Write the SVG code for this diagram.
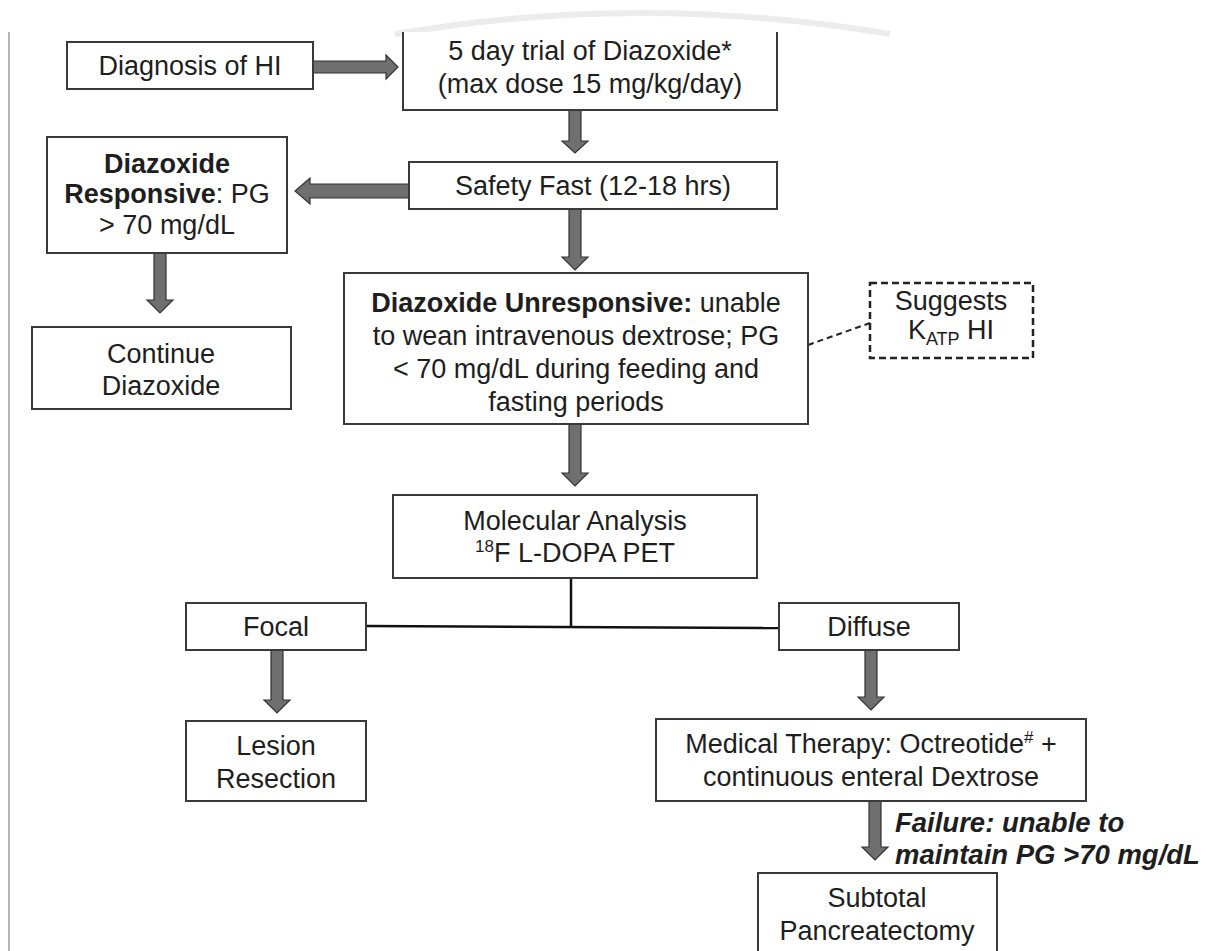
<svg xmlns="http://www.w3.org/2000/svg" width="1226" height="951" viewBox="0 0 1226 951">
<style>
.box{fill:#fff;stroke:#3a3a3a;stroke-width:2}
.dash{fill:#fff;stroke:#222;stroke-width:2.5;stroke-dasharray:7,4}
.t{font-family:"Liberation Sans",Arial,sans-serif;font-size:27px;fill:#1e1e1e;text-anchor:middle}
.b{font-weight:bold}
.arr{fill:#6f6f6f;stroke:#333;stroke-width:1.2;stroke-linejoin:miter}
.fail{font-family:"Liberation Sans",Arial,sans-serif;font-size:27.5px;font-weight:bold;font-style:italic;fill:#1e1e1e}
</style>
<rect width="1226" height="951" fill="#fff"/>
<path d="M395,34 Q640,-8 890,34" fill="none" stroke="#ececec" stroke-width="6"/>
<line x1="9" y1="32" x2="9" y2="951" stroke="#9a9a9a" stroke-width="1.5"/>

<g id="connectors">
  <polygon class="arr" points="313,61 386,61 386,55 398,67 386,79 386,73 313,73"/>
  <polygon class="arr" points="569,110 581,110 581,141 588,141 575,153 562,141 569,141"/>
  <polygon class="arr" points="569,209 581,209 581,257 588,257 575,270 562,257 569,257"/>
  <polygon class="arr" points="409,184 310,184 310,178 295,191 310,204 310,198 409,198"/>
  <polygon class="arr" points="154,253 166,253 166,300 173,300 160,313 147,300 154,300"/>
  <polygon class="arr" points="569,424 581,424 581,473 588,473 575,486 562,473 569,473"/>
  <polygon class="arr" points="271,650 283,650 283,700 290,700 277,713 264,700 271,700"/>
  <polygon class="arr" points="865,650 877,650 877,697 884,697 871,710 858,697 865,697"/>
  <polygon class="arr" points="869,801 881,801 881,847 888,847 875,860 862,847 869,847"/>
  <line x1="571" y1="578" x2="571" y2="627" stroke="#111" stroke-width="2.5"/>
  <line x1="366" y1="626" x2="779" y2="628" stroke="#111" stroke-width="2.5"/>
  <line x1="808" y1="345" x2="870" y2="323" stroke="#222" stroke-width="2" stroke-dasharray="6,4"/>
</g>

<g id="diagnosis">
  <rect class="box" x="67" y="42" width="246" height="47"/>
  <text class="t" x="190" y="75">Diagnosis of HI</text>
</g>
<g id="trial">
  <path d="M403,32 V110 H777 V32" fill="#fff" stroke="#3a3a3a" stroke-width="2"/>
  <text class="t" x="590" y="60">5 day trial of Diazoxide*</text>
  <text class="t" x="590" y="93">(max dose 15 mg/kg/day)</text>
</g>
<g id="safety">
  <rect class="box" x="409" y="162" width="368" height="47"/>
  <text class="t" x="593" y="195">Safety Fast (12-18 hrs)</text>
</g>
<g id="responsive">
  <rect class="box" x="47" y="137" width="240" height="116"/>
  <text class="t b" x="167" y="173">Diazoxide</text>
  <text class="t" x="167" y="203"><tspan class="b">Responsive</tspan>: PG</text>
  <text class="t" x="167" y="234">&gt; 70 mg/dL</text>
</g>
<g id="continue">
  <rect class="box" x="32" y="327" width="259" height="82"/>
  <text class="t" x="161" y="363">Continue</text>
  <text class="t" x="161" y="395">Diazoxide</text>
</g>
<g id="unresponsive">
  <rect class="box" x="344" y="273" width="464" height="151"/>
  <text class="t" x="576" y="312"><tspan class="b">Diazoxide Unresponsive:</tspan> unable</text>
  <text class="t" x="576" y="345">to wean intravenous dextrose; PG</text>
  <text class="t" x="576" y="378">&lt; 70 mg/dL during feeding and</text>
  <text class="t" x="576" y="411">fasting periods</text>
</g>
<g id="suggests">
  <rect class="dash" x="870" y="283" width="163" height="75"/>
  <text class="t" x="951" y="310">Suggests</text>
  <text class="t" x="951" y="339">K<tspan font-size="18" dy="6">ATP</tspan><tspan dy="-6"> HI</tspan></text>
</g>
<g id="molecular">
  <rect class="box" x="393" y="495" width="364" height="83"/>
  <text class="t" x="575" y="530">Molecular Analysis</text>
  <text class="t" x="575" y="562"><tspan font-size="17" dy="-10">18</tspan><tspan dy="10">F L-DOPA PET</tspan></text>
</g>
<g id="focal">
  <rect class="box" x="186" y="603" width="180" height="47"/>
  <text class="t" x="276" y="636">Focal</text>
</g>
<g id="diffuse">
  <rect class="box" x="779" y="603" width="180" height="47"/>
  <text class="t" x="869" y="636">Diffuse</text>
</g>
<g id="lesion">
  <rect class="box" x="186" y="721" width="180" height="80"/>
  <text class="t" x="276" y="755">Lesion</text>
  <text class="t" x="276" y="788">Resection</text>
</g>
<g id="medical">
  <rect class="box" x="656" y="719" width="430" height="82"/>
  <text class="t" x="871" y="753">Medical Therapy: Octreotide<tspan font-size="17" dy="-10">#</tspan><tspan dy="10"> +</tspan></text>
  <text class="t" x="871" y="786">continuous enteral Dextrose</text>
</g>
<g id="failure-label">
  <text class="fail" x="895" y="832">Failure: unable to</text>
  <text class="fail" x="895" y="864">maintain PG &gt;70 mg/dL</text>
</g>
<g id="subtotal">
  <path d="M758,951 V873 H997 V951" fill="#fff" stroke="#3a3a3a" stroke-width="2"/>
  <text class="t" x="877" y="907">Subtotal</text>
  <text class="t" x="877" y="940">Pancreatectomy</text>
</g>
</svg>
